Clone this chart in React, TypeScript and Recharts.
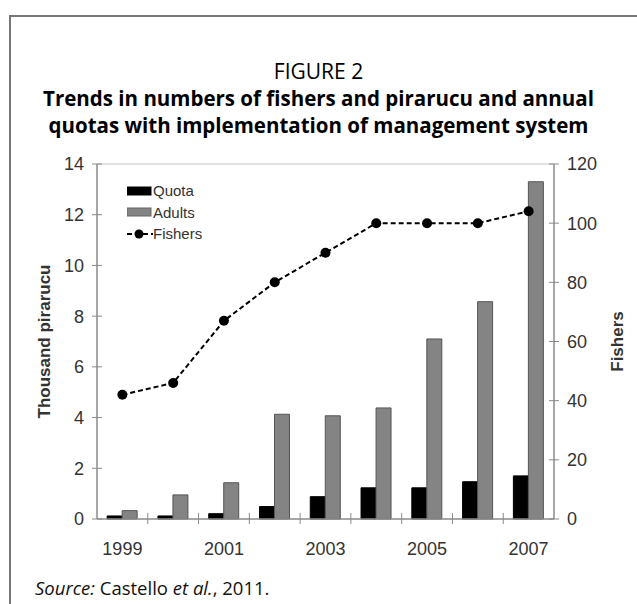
import React from 'react';
import { ComposedChart, Bar, Line, XAxis, YAxis, Legend, ReferenceLine } from 'recharts';

const years = ['1999', '2000', '2001', '2002', '2003', '2004', '2005', '2006', '2007'];
const quota = [0.12, 0.12, 0.21, 0.49, 0.88, 1.23, 1.23, 1.47, 1.7];
const adults = [0.33, 0.95, 1.43, 4.13, 4.07, 4.38, 7.1, 8.57, 13.3];
const fishers = [42, 46, 67, 80, 90, 100, 100, 100, 104];
const leftTicks = [0, 2, 4, 6, 8, 10, 12, 14];
const rightTicks = [0, 20, 40, 60, 80, 100, 120];
const labeledYears = ['1999', '2001', '2003', '2005', '2007'];
const legendOrder = ['Quota', 'Adults', 'Fishers'];

const data = years.map((y, i) => ({ year: y, Quota: quota[i], Adults: adults[i], Fishers: fishers[i] }));

const AXIS = '#8a8a8a';
const TXT = '#333';
const FONT = '"Liberation Sans", Arial, sans-serif';
const TFONT = '"Open Sans", "Noto Sans", sans-serif';

const LeftTick = (p: any) => (
  <g>
    <line x1={p.x - 5} x2={p.x + 5} y1={p.y} y2={p.y} stroke={AXIS} strokeWidth={1} />
    <text x={p.x - 13} y={p.y} dy="0.36em" textAnchor="end" fontSize={18} fill={TXT} fontFamily={FONT}>
      {p.payload.value}
    </text>
  </g>
);

const RightTick = (p: any) => (
  <g>
    <line x1={p.x - 5} x2={p.x + 5} y1={p.y} y2={p.y} stroke={AXIS} strokeWidth={1} />
    <text x={p.x + 13} y={p.y} dy="0.36em" textAnchor="start" fontSize={18} fill={TXT} fontFamily={FONT}>
      {p.payload.value}
    </text>
  </g>
);

const XTick = (p: any) => {
  const half = p.payload && typeof p.payload.offset === 'number' && p.payload.offset > 0 ? p.payload.offset : 25.4;
  const bx = p.x - half;
  const showLabel = labeledYears.includes(String(p.payload.value));
  return (
    <g>
      {p.index > 0 && <line x1={bx} x2={bx} y1={p.y - 6} y2={p.y + 5} stroke={AXIS} strokeWidth={1} />}
      {showLabel && (
        <text x={p.x} y={p.y + 36} textAnchor="middle" fontSize={18} fill={TXT} fontFamily={FONT}>
          {p.payload.value}
        </text>
      )}
    </g>
  );
};

const LegendContent = (props: any) => {
  const items = [...(props.payload || [])].sort(
    (a: any, b: any) => legendOrder.indexOf(String(a.value)) - legendOrder.indexOf(String(b.value))
  );
  return (
    <div style={{ fontFamily: FONT, fontSize: 15, color: TXT }}>
      {items.map((it: any, i: number) => (
        <div key={i} style={{ display: 'flex', alignItems: 'center', height: 21.5 }}>
          <svg width={26} height={14} style={{ display: 'block' }}>
            {it.type === 'line' ? (
              <g>
                <line x1={0} x2={26} y1={7} y2={7} stroke="#000" strokeWidth={2} strokeDasharray="5 3" />
                <circle cx={12} cy={7} r={4.5} fill="#000" />
              </g>
            ) : (
              <rect x={0} y={3} width={24} height={8} fill={it.color} stroke={it.value === 'Adults' ? '#666' : '#000'} strokeWidth={1} />
            )}
          </svg>
          <span>{it.value}</span>
        </div>
      ))}
    </div>
  );
};

export default function App() {
  return (
    <div style={{ position: 'absolute', left: 0, top: 0, width: 637, height: 604, overflow: 'hidden', background: '#fff' }}>
      <div style={{ position: 'absolute', left: 9, top: 15, width: 700, height: 700, borderLeft: '2px solid #777', borderTop: '2px solid #777' }} />
      <div style={{ position: 'absolute', left: 0, width: 637, top: 58, textAlign: 'center', fontFamily: TFONT, color: '#000' }}>
        <div style={{ fontSize: 21, lineHeight: '27px' }}>FIGURE 2</div>
        <div style={{ fontSize: 20.5, fontWeight: 700, lineHeight: '27px' }}>Trends in numbers of fishers and pirarucu and annual</div>
        <div style={{ fontSize: 20.5, fontWeight: 700, lineHeight: '27px' }}>quotas with implementation of management system</div>
      </div>
      <div style={{ position: 'absolute', left: 0, top: 0 }}>
        <ComposedChart
          width={637}
          height={604}
          data={data}
          margin={{ top: 164, left: 37, right: 23, bottom: 55 }}
          barCategoryGap="20%"
          barGap={0}
        >
          <XAxis
            dataKey="year"
            xAxisId={0}
            height={30}
            tickSize={0}
            tickMargin={0}
            tickLine={false}
            axisLine={{ stroke: AXIS, strokeWidth: 1.5 }}
            tick={<XTick />}
            interval={0}
          />
          <YAxis
            yAxisId="left"
            orientation="left"
            width={60}
            domain={[0, 14]}
            ticks={leftTicks}
            tickSize={0}
            tickMargin={0}
            tickLine={false}
            axisLine={{ stroke: AXIS, strokeWidth: 1.5 }}
            tick={<LeftTick />}
            interval={0}
            label={{
              content: (lp: any) => {
                const vb = lp.viewBox || { x: 37, y: 164, width: 60, height: 355 };
                const cx = vb.x + 7;
                const cy = vb.y + vb.height / 2;
                return (
                  <text x={cx} y={cy} transform={`rotate(-90, ${cx}, ${cy})`} textAnchor="middle" dy="0.36em" fontSize={17} fontWeight={700} fill={TXT} fontFamily={FONT}>
                    Thousand pirarucu
                  </text>
                );
              },
            }}
          />
          <YAxis
            yAxisId="right"
            orientation="right"
            width={60}
            domain={[0, 120]}
            ticks={rightTicks}
            tickSize={0}
            tickMargin={0}
            tickLine={false}
            axisLine={{ stroke: AXIS, strokeWidth: 1.5 }}
            tick={<RightTick />}
            interval={0}
            label={{
              content: (lp: any) => {
                const vb = lp.viewBox || { x: 554, y: 164, width: 60, height: 355 };
                const cx = vb.x + 63;
                const cy = vb.y + vb.height / 2;
                return (
                  <text x={cx} y={cy} transform={`rotate(-90, ${cx}, ${cy})`} textAnchor="middle" dy="0.36em" fontSize={17} fontWeight={700} fill={TXT} fontFamily={FONT}>
                    Fishers
                  </text>
                );
              },
            }}
          />
          <ReferenceLine yAxisId="left" y={14} stroke="#c4c4c4" strokeWidth={1.2} />
          <Legend
            layout="vertical"
            align="center"
            verticalAlign="middle"
            content={<LegendContent />}
            wrapperStyle={{ position: 'absolute', left: 127, top: 180, width: 140 }}
          />
          <Bar yAxisId="left" dataKey="Quota" name="Quota" fill="#000" stroke="#000" strokeWidth={1} isAnimationActive={false} />
          <Bar yAxisId="left" dataKey="Adults" name="Adults" fill="#848484" stroke="#555" strokeWidth={1} isAnimationActive={false} />
          <Line
            yAxisId="right"
            dataKey="Fishers"
            name="Fishers"
            type="linear"
            stroke="#000"
            strokeWidth={2}
            strokeDasharray="5 3"
            dot={{ r: 5, fill: '#000', stroke: '#000', strokeWidth: 0 }}
            activeDot={false}
            legendType="line"
            isAnimationActive={false}
          />
        </ComposedChart>
      </div>
      <div style={{ position: 'absolute', left: 35, top: 575, fontFamily: TFONT, fontSize: 18.5, color: '#111', whiteSpace: 'nowrap' }}>
        <i>Source:</i> Castello <i>et al.</i>, 2011.
      </div>
    </div>
  );
}
